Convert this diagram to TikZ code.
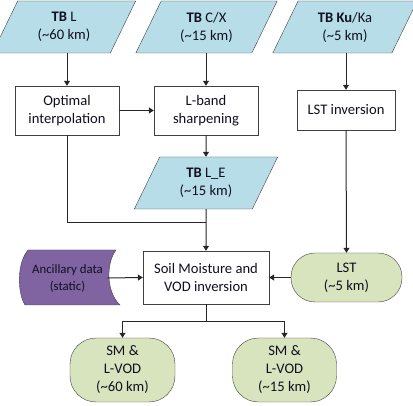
\documentclass[tikz,border=0pt]{standalone}
\usepackage{fontspec}
\setmainfont{Carlito}
\usepackage{tikz}
\usetikzlibrary{arrows.meta,shapes.geometric}
\definecolor{TBBlue}{HTML}{B7DEE8}
\definecolor{LSTGreen}{HTML}{D7E4BD}
\definecolor{AncPurple}{HTML}{8064A2}
\definecolor{EdgeGray}{HTML}{404040}
\definecolor{LineDark}{HTML}{262626}
\definecolor{TextDark}{HTML}{101020}

\begin{document}
\begin{tikzpicture}[
  x=1pt,y=-1pt,
  every node/.style={font=\fontsize{14.6}{18}\selectfont,text=TextDark},
  data/.style={trapezium,trapezium left angle=64,trapezium right angle=116,draw=EdgeGray,fill=TBBlue,minimum width=128pt,minimum height=52pt,align=center,inner sep=0pt},
  box/.style={rectangle,draw=EdgeGray,fill=white,minimum width=104pt,minimum height=49pt,align=center,inner sep=0pt},
  result/.style={rectangle,rounded corners=24pt,draw=EdgeGray,fill=LSTGreen,align=center,inner sep=0pt},
  arrow/.style={-{Triangle[length=5pt,width=6pt]},draw=LineDark,line width=1pt},
  link/.style={draw=LineDark,line width=1pt}
]
\useasboundingbox (0,0) rectangle (413,406);
% inputs
\node[data] (tbL) at (64,27) {\textbf{TB} L\\(\textasciitilde60 km)};
\node[data] (tbCX) at (206.5,27) {\textbf{TB} C/X\\(\textasciitilde15 km)};
\node[data] (tbKu) at (345,27) {\textbf{TB Ku}/Ka\\(\textasciitilde5 km)};
% processing
\node[box] (interp) at (67,110.5) {Optimal\\interpolation};
\node[box] (sharpen) at (206,110.5) {L-band\\sharpening};
\node[box,minimum width=98pt,minimum height=40pt] (lstinv) at (346,110) {LST inversion};
\node[data] (tbLE) at (206,183) {\textbf{TB} L\_E\\(\textasciitilde15 km)};
\node[box,minimum width=126pt,minimum height=53pt] (retrieval) at (206,277.5) {Soil Moisture and\\VOD inversion};
% ancillary data (stored data shape)
\fill[AncPurple,draw=EdgeGray] (28,250) -- (116,250) .. controls (106,263) and (106,292) .. (120,305)
  -- (25,305) .. controls (17,292) and (17,263) .. (28,250) -- cycle;
\node[minimum width=80pt,inner sep=0pt,align=center,font=\fontsize{12.8}{17}\selectfont] (anc) at (67.5,278) {Ancillary data\\(static)};
\node[result,minimum width=111pt,minimum height=49pt] (lst) at (346.5,277.5) {LST\\(\textasciitilde5 km)};
% outputs
\node[result,minimum width=105pt,minimum height=64pt,rounded corners=26pt] (smcoarse) at (122.5,370) {SM \&\\L-VOD\\(\textasciitilde60 km)};
\node[result,minimum width=104pt,minimum height=64pt,rounded corners=26pt] (smfine) at (284.5,370) {SM \&\\L-VOD\\(\textasciitilde15 km)};
\coordinate (join) at (206,223);
\coordinate (split) at (206,322);
% connectors
\draw[arrow] (interp.north |- tbL.south) -- (interp.north);
\draw[arrow] (sharpen.north |- tbCX.south) -- (sharpen.north);
\draw[arrow] (lstinv.north |- tbKu.south) -- (lstinv.north);
\draw[arrow] (interp.east) -- (sharpen.west);
\draw[arrow] (sharpen.south) -- (tbLE.north);
\draw[link] (interp.south) |- (join);
\draw[arrow] (tbLE.south) -- (retrieval.north);
\draw[arrow] (lstinv.south) -- (lst.north);
\draw[arrow] (anc.east) -- (retrieval.west);
\draw[arrow] (lst.west) -- (retrieval.east);
\draw[link] (retrieval.south) -- (split);
\draw[arrow] (split) -| (smcoarse.north);
\draw[arrow] (split) -| (smfine.north);
\end{tikzpicture}
\end{document}
